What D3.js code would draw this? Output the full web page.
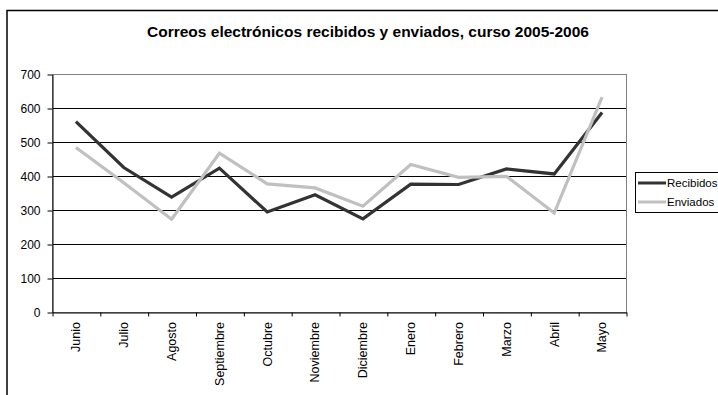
<!DOCTYPE html>
<html>
<head>
<meta charset="utf-8">
<script src="https://cdn.jsdelivr.net/npm/d3@7"></script>
<style>
  body { margin: 0; background: #fff; }
  svg { display: block; font-family: "Liberation Sans", Arial, sans-serif; }
</style>
</head>
<body>
<script>
const months = ['Junio', 'Julio', 'Agosto', 'Septiembre', 'Octubre', 'Noviembre',
  'Diciembre', 'Enero', 'Febrero', 'Marzo', 'Abril', 'Mayo'];
const recibidos = [560, 425, 338, 423, 294, 345, 274, 376, 375, 421, 406, 587];
const enviados = [484, 380, 273, 467, 377, 365, 311, 434, 396, 399, 291, 632];
const yTicks = [0, 100, 200, 300, 400, 500, 600, 700];
const seriesNames = ['Recibidos', 'Enviados'];

const W = 718, H = 395;
const plot = { left: 52, right: 626, top: 74, bottom: 312 };

const svg = d3.select('body').append('svg')
  .attr('width', W)
  .attr('height', H);

svg.append('rect').attr('width', W).attr('height', H).attr('fill', '#fff');

// outer chart frame (cut off at right and bottom)
svg.append('rect')
  .attr('x', 7).attr('y', 10.5)
  .attr('width', 800).attr('height', 500)
  .attr('fill', 'none')
  .attr('stroke', '#000')
  .attr('stroke-width', 1.5);

svg.append('text')
  .attr('x', 368)
  .attr('y', 37)
  .attr('text-anchor', 'middle')
  .attr('font-size', '15.5px')
  .attr('font-weight', 'bold')
  .text('Correos electrónicos recibidos y enviados, curso 2005-2006');

const x = d3.scaleBand().domain(months).range([plot.left, plot.right]);
const xEdge = d3.scaleLinear().domain([0, months.length]).range([plot.left, plot.right]);
const y = d3.scaleLinear().domain([0, 700]).range([plot.bottom, plot.top]);

// grid lines
svg.append('g')
  .selectAll('line')
  .data(yTicks.slice(1, -1))
  .join('line')
  .attr('x1', plot.left).attr('x2', plot.right)
  .attr('y1', d => Math.round(y(d)) + 0.5)
  .attr('y2', d => Math.round(y(d)) + 0.5)
  .attr('stroke', '#000')
  .attr('stroke-width', 1);

// plot area border (gray top/right)
svg.append('rect')
  .attr('x', plot.left + 0.5).attr('y', plot.top + 0.5)
  .attr('width', plot.right - plot.left)
  .attr('height', plot.bottom - plot.top)
  .attr('fill', 'none')
  .attr('stroke', '#808080');

// y axis
svg.append('g')
  .attr('transform', `translate(${plot.left + 0.5},0.5)`)
  .call(d3.axisLeft(y).tickValues(yTicks).tickSizeInner(5).tickSizeOuter(0).tickPadding(7))
  .call(g => g.selectAll('text').attr('font-size', '12px').attr('fill', '#000').attr('font-family', null))
  .call(g => g.selectAll('line,path').attr('stroke', '#000'));

// x axis ticks on category edges
svg.append('g')
  .attr('transform', `translate(0.5,${plot.bottom + 0.5})`)
  .call(d3.axisBottom(xEdge).tickValues(d3.range(months.length + 1)).tickSizeInner(4).tickSizeOuter(0).tickFormat(''))
  .call(g => g.selectAll('line,path').attr('stroke', '#000'));

// x labels
svg.append('g')
  .attr('transform', `translate(0,${plot.bottom})`)
  .call(d3.axisBottom(x).tickSize(0))
  .call(g => g.select('.domain').remove())
  .call(g => g.selectAll('text')
    .attr('font-size', '12.5px')
    .attr('font-family', null)
    .attr('fill', '#000')
    .attr('transform', 'rotate(-90)')
    .attr('x', -10)
    .attr('y', 0)
    .attr('dy', '0.35em')
    .attr('text-anchor', 'end'));

const line = d3.line()
  .x((d, i) => x(months[i]) + x.bandwidth() / 2)
  .y(d => y(d));

const colors = ['#333333', '#c0c0c0'];
const series = [recibidos, enviados];

svg.append('g')
  .selectAll('path')
  .data(series)
  .join('path')
  .attr('d', line)
  .attr('fill', 'none')
  .attr('stroke', (d, i) => colors[i])
  .attr('stroke-width', 3.2)
  .attr('stroke-linejoin', 'miter');

// legend (box runs past the right edge, as in the original)
const legend = svg.append('g');
legend.append('rect')
  .attr('x', 635.5).attr('y', 172.5)
  .attr('width', 120).attr('height', 40)
  .attr('fill', '#fff')
  .attr('stroke', '#000');

const items = legend.selectAll('g.item')
  .data(seriesNames)
  .join('g')
  .attr('class', 'item')
  .attr('transform', (d, i) => `translate(0,${183 + i * 19})`);
items.append('line')
  .attr('x1', 638).attr('x2', 666)
  .attr('stroke', (d, i) => colors[i])
  .attr('stroke-width', 3);
items.append('text')
  .attr('x', 667)
  .attr('dy', '0.35em')
  .attr('font-size', '11.5px')
  .text(d => d);
</script>
</body>
</html>
